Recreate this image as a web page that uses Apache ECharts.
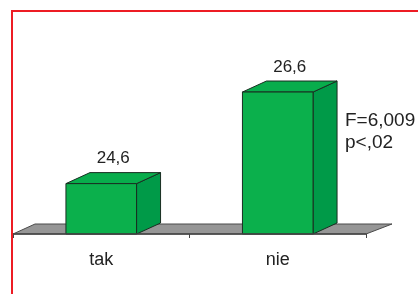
<!DOCTYPE html>
<html>
<head>
<meta charset="utf-8">
<script src="https://cdn.jsdelivr.net/npm/echarts@6/dist/echarts.min.js"></script>
<style>
html,body{margin:0;padding:0;background:#fff;}
#c{width:418px;height:294px;}
</style>
</head>
<body>
<div id="c"></div>
<script>
// Data
const categories = ['tak', 'nie'];
const values = [24.6, 26.6];
const statLines = ['F=6,009', 'p<,02'];

const Y_MIN = 23.5, Y_MAX = 28.5;
const DX = 24, DY = 11;       // 3D depth offset
const FONT = '"Liberation Sans", Arial, sans-serif';

const chart = echarts.init(document.getElementById('c'), null, {renderer: 'canvas'});

function fmt(v) { return String(v).replace('.', ','); }

function renderFloor(params, api) {
  const cs = params.coordSys;
  const xl = cs.x, xr = cs.x + cs.width, yb = cs.y + cs.height;
  return {
    type: 'polygon',
    shape: {points: [[xl, yb], [xr, yb], [xr + DX + 2, yb - 10], [xl + DX - 2, yb - 10]]},
    style: {fill: '#969696', stroke: '#4a4a4a', lineWidth: 1}
  };
}

function renderBar(params, api) {
  const ci = api.value(0), v = api.value(1);
  const top = api.coord([ci, v]);
  const base = api.coord([ci, Y_MIN]);
  const bw = api.size([1, 0])[0] * 0.4;
  const x0 = top[0] - bw / 2, x1 = top[0] + bw / 2, yt = top[1], yb = base[1];
  const edge = {stroke: '#1a2e22', lineWidth: 1};
  return {
    type: 'group',
    children: [
      {type: 'polygon', shape: {points: [[x1, yb], [x1 + DX, yb - DY], [x1 + DX, yt - DY], [x1, yt]]},
        style: Object.assign({fill: '#009a48'}, edge)},
      {type: 'polygon', shape: {points: [[x0, yt], [x1, yt], [x1 + DX, yt - DY], [x0 + DX, yt - DY]]},
        style: Object.assign({fill: '#08ad4c'}, edge)},
      {type: 'rect', shape: {x: x0, y: yt, width: bw, height: yb - yt},
        style: Object.assign({fill: '#0bb04c'}, edge)},
      {type: 'text', style: {text: fmt(v), x: (x0 + x1) / 2 + DX / 2, y: yt - DY - 14,
        align: 'center', verticalAlign: 'middle', font: '17px ' + FONT, fill: '#222'}}
    ]
  };
}

chart.setOption({
  animation: false,
  grid: {left: 13, right: 52, top: 5, bottom: 60},
  xAxis: {
    type: 'category', data: categories,
    axisLine: {show: true, lineStyle: {color: '#444', width: 1.5}},
    axisTick: {show: true, length: 4, lineStyle: {color: '#444'}},
    axisLabel: {fontSize: 18, fontFamily: FONT, color: '#222', margin: 17},
    z: 5
  },
  yAxis: {type: 'value', min: Y_MIN, max: Y_MAX, show: false, splitLine: {show: false}},
  series: [
    {type: 'custom', renderItem: renderFloor, data: [[0]], z: 1, silent: true},
    {type: 'custom', renderItem: renderBar, data: categories.map((c, i) => [i, values[i]]), z: 3,
      encode: {x: 0, y: 1}}
  ],
  graphic: [
    {type: 'rect', shape: {x: 12, y: 11, width: 430, height: 320},
      style: {fill: null, stroke: '#ed1c24', lineWidth: 2}, z: 100},
    {type: 'text', left: 345, top: 110,
      style: {text: statLines.join('\n'), font: '19px ' + FONT, lineHeight: 22, fill: '#222'}}
  ]
});
</script>
</body>
</html>
